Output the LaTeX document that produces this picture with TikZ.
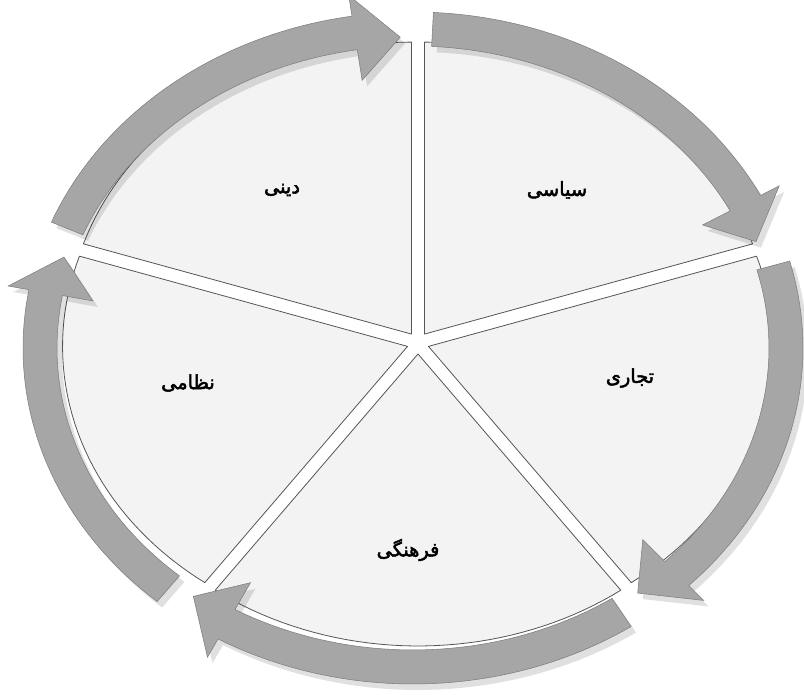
\documentclass[tikz,border=0pt]{standalone}
\usepackage{fontspec}
\newfontfamily\arabicfont[Script=Arabic, FakeBold=2.5]{DejaVu Sans}
\TeXXeTstate=1
\usetikzlibrary{calc}
\definecolor{ringgray}{RGB}{166,166,166}
\definecolor{ringedge}{RGB}{125,125,125}
\definecolor{piefill}{RGB}{243,243,243}
\definecolor{pieedge}{RGB}{85,85,85}
\tikzset{
  sector/.style={fill=piefill, draw=pieedge, line width=0.6pt, line join=round},
  ringarrow/.style={fill=ringgray, draw=ringedge, line width=0.4pt, line join=miter},
  ringshadow/.style={fill=black, opacity=0.12},
  lbl/.style={font=\arabicfont\fontsize{14.5}{17}\selectfont, text=black}
}

\begin{document}
\begin{tikzpicture}[x=0.75pt, y=0.75pt]
\useasboundingbox (0,0) rectangle (804,695);

% pie segments, pushed out along their bisectors
\foreach \bis in {126,54,-18,-90,198} {
  \pgfmathsetmacro\ox{418+11*cos(\bis)}
  \pgfmathsetmacro\oy{352+11*sin(\bis)}
  \pgfmathsetmacro\a{\bis-36}
  \pgfmathsetmacro\b{\bis+36}
  \draw[sector] (\ox,\oy) -- plot[domain=\a:\b, samples=40] ({\ox+345*cos(\x)},{\oy+292*sin(\x)}) -- cycle;
}

% curved arrows round the pie (clockwise)
\foreach \s/\e in {87/20, 15/-52, -56/-127, -131/-197, 158/92} {
  \pgfmathsetmacro\hb{\e+7}
  \fill[ringshadow, shift={(5,-6)}] plot[domain=\s:\hb, samples=40] ({413+390*cos(\x)},{347+336*sin(\x)})
    -- ({413+(373+38)*cos(\hb)},{347+(319+38)*sin(\hb)})
    -- ({413+(373-8)*cos(\e)},{347+(319-8)*sin(\e)})
    -- ({413+(373-48)*cos(\hb)},{347+(319-48)*sin(\hb)})
    -- plot[domain=\hb:\s, samples=40] ({413+356*cos(\x)},{347+302*sin(\x)}) -- cycle;
  \fill[ringarrow] plot[domain=\s:\hb, samples=40] ({413+390*cos(\x)},{347+336*sin(\x)})
    -- ({413+(373+38)*cos(\hb)},{347+(319+38)*sin(\hb)})
    -- ({413+(373-8)*cos(\e)},{347+(319-8)*sin(\e)})
    -- ({413+(373-48)*cos(\hb)},{347+(319-48)*sin(\hb)})
    -- plot[domain=\hb:\s, samples=40] ({413+356*cos(\x)},{347+302*sin(\x)}) -- cycle;
}

\node[lbl] (dini) at (282,505) {\beginR دینی\endR};
\node[lbl] (siasi) at (557,505) {\beginR سیاسی\endR};
\node[lbl] (tejari) at (630,317) {\beginR تجاری\endR};
\node[lbl] (farhangi) at (408,145) {\beginR فرهنگی\endR};
\node[lbl] (nezami) at (188,312) {\beginR نظامی\endR};
\end{tikzpicture}
\end{document}
